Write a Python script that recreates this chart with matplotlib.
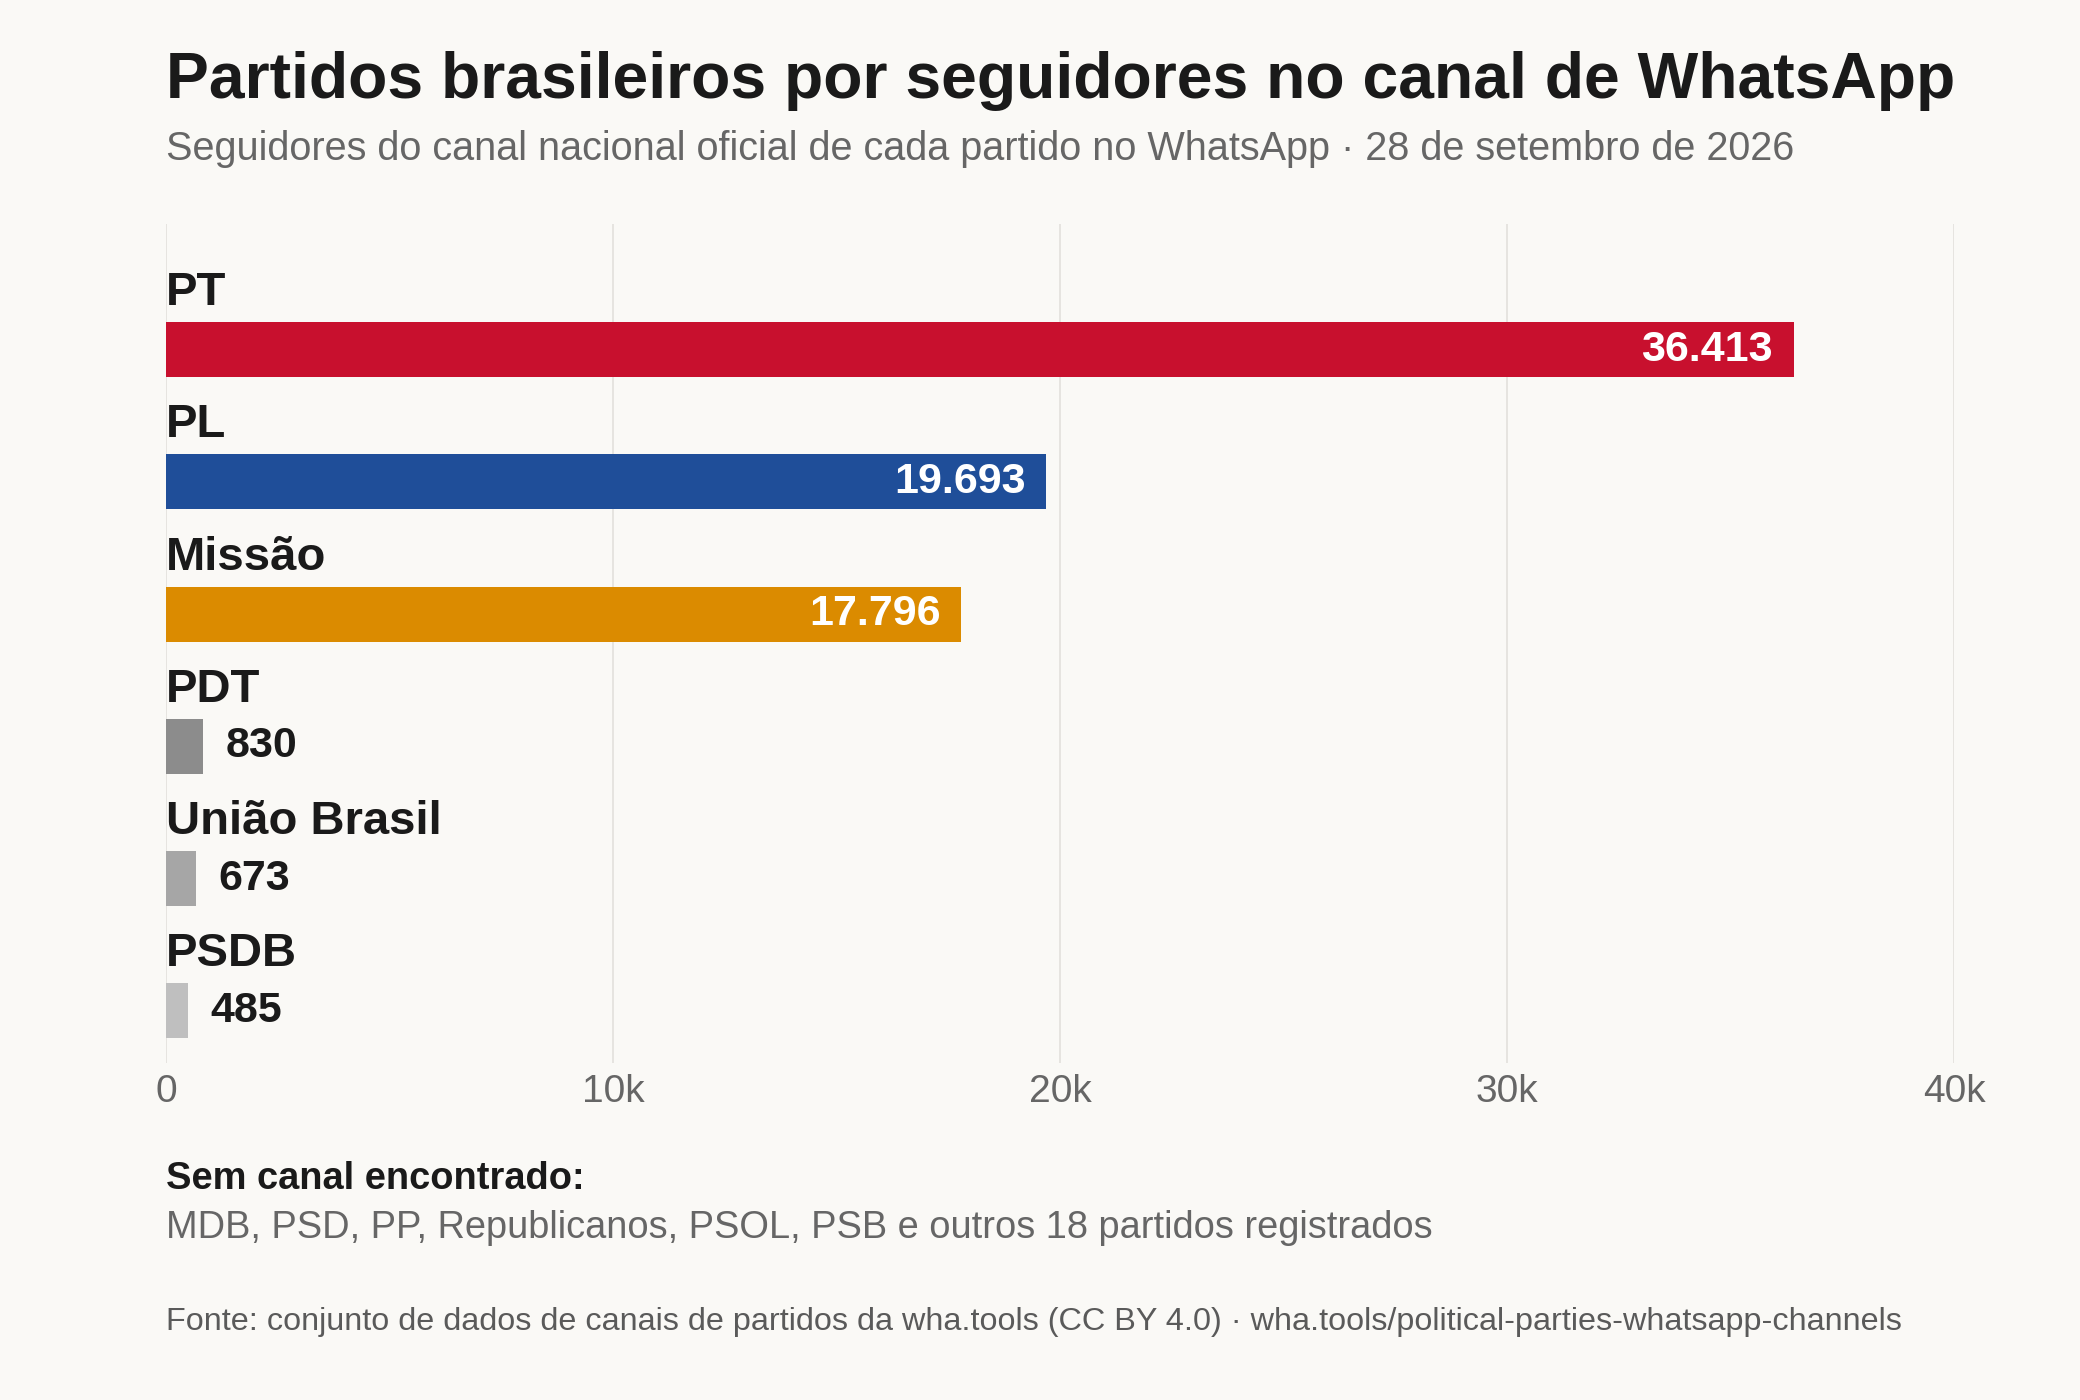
import matplotlib
matplotlib.use("Agg")
import matplotlib.pyplot as plt
from matplotlib.ticker import FuncFormatter

# data
parties = ["PT", "PL", "Missão", "PDT", "União Brasil", "PSDB"]
followers = [36413, 19693, 17796, 830, 673, 485]
bar_colors = ["#C8102E", "#1F4E99", "#DB8B00", "#8C8C8C", "#A6A6A6", "#BFBFBF"]
x_ticks = [0, 10000, 20000, 30000, 40000]
no_channel = "MDB, PSD, PP, Republicanos, PSOL, PSB e outros 18 partidos registrados"

BG = "#FAF9F6"
DARK = "#1A1A1A"
GREY = "#666666"

plt.rcParams["font.family"] = ["Liberation Sans", "DejaVu Sans"]

fig = plt.figure(figsize=(10.4, 7), dpi=200, facecolor=BG)
ax = fig.add_axes([0.0798, 0.2407, 0.8596, 0.5993], facecolor=BG)

ypos = list(range(len(parties)))
ax.barh(ypos, followers, height=0.416, color=bar_colors, zorder=2)

for i, (name, val) in enumerate(zip(parties, followers)):
    ax.text(0, i - 0.336, name, fontsize=17, fontweight="bold", color=DARK,
            ha="left", va="baseline")
    label = f"{val:,}".replace(",", ".")
    if val > 5000:
        ax.annotate(label, (val, i), xytext=(-7.5, 0), textcoords="offset points",
                    ha="right", va="center", fontsize=15.5, fontweight="bold", color="white")
    else:
        ax.annotate(label, (val, i), xytext=(8, 0), textcoords="offset points",
                    ha="left", va="center", fontsize=15.5, fontweight="bold", color=DARK)

ax.set_xlim(0, 40000)
ax.set_ylim(5.395, -0.949)
ax.set_xticks(x_ticks)
ax.xaxis.set_major_formatter(FuncFormatter(lambda v, p: "0" if v == 0 else f"{int(v/1000)}k"))
ax.set_yticks([])
ax.tick_params(axis="x", length=0, pad=4, labelsize=14, labelcolor=GREY)
ax.grid(axis="x", color="#E6E4E0", linewidth=0.7, zorder=0)
for s in ax.spines.values():
    s.set_visible(False)

# titles and notes
fig.text(0.0798, 1 - 98/1400, "Partidos brasileiros por seguidores no canal de WhatsApp",
         fontsize=23.15, fontweight="bold", color=DARK, ha="left", va="baseline")
fig.text(0.0798, 1 - 160/1400,
         "Seguidores do canal nacional oficial de cada partido no WhatsApp · 28 de setembro de 2026",
         fontsize=14.25, color=GREY, ha="left", va="baseline")
fig.text(0.0798, 1 - 1189/1400, "Sem canal encontrado:", fontsize=13.7,
         fontweight="bold", color=DARK, ha="left", va="baseline")
fig.text(0.0798, 1 - 1238/1400, no_channel, fontsize=13.7, color=GREY,
         ha="left", va="baseline")
fig.text(0.0798, 1 - 1330/1400,
         "Fonte: conjunto de dados de canais de partidos da wha.tools (CC BY 4.0) · wha.tools/political-parties-whatsapp-channels",
         fontsize=11.65, color="#5A5A5A", ha="left", va="baseline")

fig.savefig("out.png", dpi=200, facecolor=BG)
